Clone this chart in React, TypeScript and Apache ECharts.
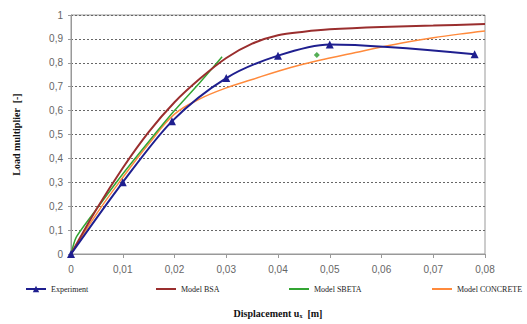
import React, { useEffect, useRef } from "react";
import * as echarts from "echarts";

const expX = [0, 0.01, 0.0195, 0.03, 0.04, 0.05, 0.078];
const expY = [0, 0.3, 0.555, 0.736, 0.83, 0.877, 0.836];

const bsaX = [0, 0.005, 0.01, 0.015, 0.02, 0.025, 0.03, 0.035, 0.04, 0.045, 0.05, 0.06, 0.07, 0.08];
const bsaY = [0, 0.19, 0.36, 0.51, 0.635, 0.735, 0.82, 0.88, 0.915, 0.93, 0.94, 0.95, 0.956, 0.962];

const sbetaX = [0, 0.001, 0.005, 0.01, 0.015, 0.02, 0.025, 0.0292];
const sbetaY = [0, 0.07, 0.19, 0.335, 0.47, 0.6, 0.72, 0.825];
const sbetaPointX = [0.0475];
const sbetaPointY = [0.833];

const concX = [0, 0.005, 0.01, 0.015, 0.02, 0.025, 0.03, 0.035, 0.04, 0.045, 0.05, 0.055, 0.06, 0.065, 0.07, 0.075, 0.08];
const concY = [0, 0.17, 0.32, 0.46, 0.585, 0.65, 0.695, 0.73, 0.765, 0.795, 0.82, 0.843, 0.866, 0.887, 0.905, 0.92, 0.933];

const xTicks = { min: 0, max: 0.08, interval: 0.01 };
const yTicks = { min: 0, max: 1, interval: 0.1 };

const zip = (xs: number[], ys: number[]) => xs.map((x, i) => [x, ys[i]]);
const fmt = (v: number) => {
  if (Math.abs(v) < 1e-9) return "0";
  const s = Math.abs(v - Math.round(v)) < 1e-9 ? String(Math.round(v)) : String(parseFloat(v.toFixed(2)));
  return s.replace(".", ",");
};

export default function App() {
  const ref = useRef<HTMLDivElement>(null);
  useEffect(() => {
    document.body.style.margin = "0";
    if (!ref.current) return;
    const chart = echarts.init(ref.current, undefined, { renderer: "svg" });
    const legendText = { fontFamily: "Liberation Serif", fontSize: 8, color: "#222", lineHeight: 10 };
    const legendCommon = {
      top: 284,
      itemWidth: 20,
      itemGap: 4,
      textStyle: legendText,
      padding: 0,
    };
    chart.setOption({
      animation: false,
      backgroundColor: "#fff",
      grid: {
        left: 71,
        right: 42,
        top: 15,
        bottom: 70,
        show: true,
        borderColor: "#999",
        borderWidth: 1,
      },
      legend: [
        { ...legendCommon, itemHeight: 8, left: 25, data: ["Experiment"] },
        { ...legendCommon, itemHeight: 2, left: 156, data: [{ name: "Model BSA", icon: "rect" }] },
        { ...legendCommon, itemHeight: 2, left: 289, data: [{ name: "Model SBETA", icon: "rect" }] },
        { ...legendCommon, itemHeight: 2, left: 432, data: [{ name: "Model CONCRETE", icon: "rect" }] },
      ],
      xAxis: {
        type: "value",
        ...xTicks,
        name: "Displacement u{sub|x}  [m]",
        nameLocation: "middle",
        nameGap: 53,
        nameTextStyle: {
          fontFamily: "Liberation Serif",
          fontWeight: "bold",
          fontSize: 10,
          color: "#111",
          rich: {
            sub: { fontFamily: "Liberation Serif", fontSize: 6, verticalAlign: "bottom", padding: [6, 0, 0, 0] },
          },
        },
        axisLine: { show: true, lineStyle: { color: "#999" } },
        axisTick: { show: true, length: 4, lineStyle: { color: "#999" } },
        axisLabel: {
          formatter: fmt,
          fontFamily: "Liberation Sans",
          fontSize: 10,
          color: "#666",
          margin: 10,
        },
        splitLine: { show: false },
      },
      yAxis: {
        type: "value",
        ...yTicks,
        name: "Load multiplier  [-]",
        nameLocation: "middle",
        nameRotate: 90,
        nameGap: 50,
        nameTextStyle: {
          fontFamily: "Liberation Serif",
          fontWeight: "bold",
          fontSize: 10,
          color: "#111",
        },
        axisLine: { show: true, lineStyle: { color: "#999" } },
        axisTick: { show: true, length: 3, lineStyle: { color: "#999" } },
        axisLabel: {
          formatter: fmt,
          fontFamily: "Liberation Sans",
          fontSize: 10,
          color: "#666",
          margin: 8,
        },
        splitLine: { show: true, lineStyle: { color: "#666", type: [2, 2], width: 1 } },
      },
      series: [
        {
          name: "Model CONCRETE",
          type: "line",
          data: zip(concX, concY),
          smooth: 0.4,
          symbol: "none",
          lineStyle: { color: "#ff8a3c", width: 1.5 },
          itemStyle: { color: "#ff8a3c" },
          z: 2,
        },
        {
          name: "Model SBETA",
          type: "line",
          data: zip(sbetaX, sbetaY),
          smooth: 0.2,
          symbol: "none",
          lineStyle: { color: "#33a533", width: 1.5 },
          itemStyle: { color: "#33a533" },
          z: 3,
        },
        {
          name: "SBETA point",
          type: "scatter",
          data: zip(sbetaPointX, sbetaPointY),
          symbol: "diamond",
          symbolSize: 6,
          itemStyle: { color: "#2a9a2a" },
          z: 3,
        },
        {
          name: "Model BSA",
          type: "line",
          data: zip(bsaX, bsaY),
          smooth: 0.3,
          symbol: "none",
          lineStyle: { color: "#9a2e2e", width: 2 },
          itemStyle: { color: "#9a2e2e" },
          z: 4,
        },
        {
          name: "Experiment",
          type: "line",
          data: zip(expX, expY),
          smooth: 0.3,
          symbol: "triangle",
          symbolSize: 8,
          showAllSymbol: true,
          lineStyle: { color: "#1f1f8f", width: 2 },
          itemStyle: { color: "#1f1f8f" },
          z: 5,
        },
      ],
    });
    return () => chart.dispose();
  }, []);
  return <div ref={ref} style={{ width: 527, height: 324 }} />;
}
